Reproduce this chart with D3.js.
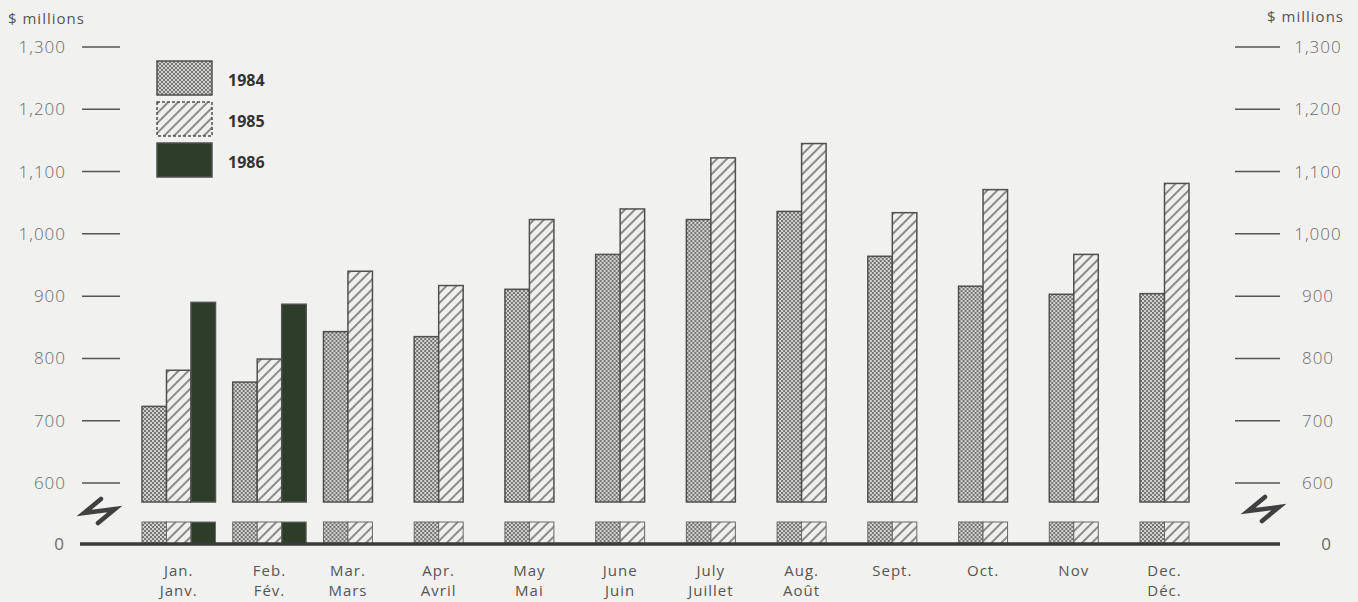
<!DOCTYPE html>
<html>
<head>
<meta charset="utf-8">
<script src="https://cdn.jsdelivr.net/npm/d3@7.9.0/dist/d3.min.js"></script>
<style>
  body { margin: 0; background: #f1f1ef; }
  svg { display: block; font-family: "Open Sans", "DejaVu Sans", sans-serif; }
</style>
</head>
<body>
<svg width="1358" height="602"></svg>
<script>
const months = ["Jan.", "Feb.", "Mar.", "Apr.", "May", "June", "July", "Aug.", "Sept.", "Oct.", "Nov", "Dec."];
const monthsFr = ["Janv.", "Fév.", "Mars", "Avril", "Mai", "Juin", "Juillet", "Août", "", "", "", "Déc."];
const years = ["1984", "1985", "1986"];
const values1984 = [723, 762, 843, 835, 911, 967, 1023, 1036, 964, 916, 903, 904];
const values1985 = [781, 799, 940, 917, 1023, 1040, 1122, 1145, 1034, 1071, 967, 1081];
const values1986 = [890, 887, null, null, null, null, null, null, null, null, null, null];
const tickValues = [600, 700, 800, 900, 1000, 1100, 1200, 1300];

const svg = d3.select('svg');
const defs = svg.append('defs');

// stipple for 1984
let dots = defs.append('pattern').attr('id', 'dots')
  .attr('patternUnits', 'userSpaceOnUse').attr('width', 4).attr('height', 4);
dots.append('rect').attr('width', 4).attr('height', 4).attr('fill', '#d2d2d0');
dots.append('circle').attr('cx', 1).attr('cy', 1).attr('r', 0.9).attr('fill', '#4a4a4a');
dots.append('circle').attr('cx', 3).attr('cy', 3).attr('r', 0.9).attr('fill', '#4a4a4a');

// hatch for 1985
let hatch = defs.append('pattern').attr('id', 'hatch')
  .attr('patternUnits', 'userSpaceOnUse').attr('width', 7).attr('height', 7)
  .attr('patternTransform', 'rotate(45)');
hatch.append('rect').attr('width', 7).attr('height', 7).attr('fill', '#efefed');
hatch.append('line').attr('x1', 1).attr('y1', 0).attr('x2', 1).attr('y2', 7)
  .attr('stroke', '#555').attr('stroke-width', 1.3);

const fills = { "1984": "url(#dots)", "1985": "url(#hatch)", "1986": "#2e3d2a" };
const series = { "1984": values1984, "1985": values1985, "1986": values1986 };

let y = d3.scaleLinear().domain([600, 1300]).range([483, 47]);
let x0 = d3.scaleBand().domain(months).range([142, 1213.5]).paddingInner(0.19).paddingOuter(0);
let x1 = d3.scaleBand().domain(years).range([0, x0.bandwidth()]);

const breakBottom = 502;   // bottom of the upper segment
const stubTop = 522;       // top of the stub under the break
const zeroY = 544;

let data = months.map((m, i) => ({
  month: m, fr: monthsFr[i],
  bars: years.filter(yr => series[yr][i] != null).map(yr => ({ year: yr, value: series[yr][i] }))
}));

let groups = svg.append('g').selectAll('g').data(data).join('g')
  .attr('transform', d => `translate(${x0(d.month)},0)`);

// upper part of bars
groups.selectAll('rect.top').data(d => d.bars).join('rect')
  .attr('class', 'top')
  .attr('x', d => x1(d.year))
  .attr('width', x1.bandwidth())
  .attr('y', d => y(d.value))
  .attr('height', d => breakBottom - y(d.value))
  .attr('fill', d => fills[d.year])
  .attr('stroke', '#505050').attr('stroke-width', 1.5);

// stubs below the break
groups.selectAll('rect.stub').data(d => d.bars).join('rect')
  .attr('class', 'stub')
  .attr('x', d => x1(d.year))
  .attr('width', x1.bandwidth())
  .attr('y', stubTop)
  .attr('height', zeroY - stubTop)
  .attr('fill', d => fills[d.year])
  .attr('stroke', '#6a6a6a').attr('stroke-width', 1);

// month labels
groups.append('text')
  .attr('x', d => d.bars.length * x1.bandwidth() / 2)
  .attr('y', 576)
  .attr('text-anchor', 'middle').attr('font-size', 15).attr('letter-spacing', 1).attr('fill', '#555')
  .text(d => d.month);
groups.append('text')
  .attr('x', d => d.bars.length * x1.bandwidth() / 2)
  .attr('y', 596)
  .attr('text-anchor', 'middle').attr('font-size', 15).attr('letter-spacing', 1).attr('fill', '#555')
  .text(d => d.fr);

// zero line
svg.append('line').attr('x1', 80).attr('x2', 1280).attr('y1', zeroY).attr('y2', zeroY)
  .attr('stroke', '#3a3a3a').attr('stroke-width', 3.5);

// left and right ticks
const fmt = d3.format(',');
let ticksL = svg.append('g').selectAll('g').data(tickValues).join('g')
  .attr('transform', d => `translate(0,${y(d)})`);
ticksL.append('line').attr('x1', 82).attr('x2', 120).attr('stroke', '#555').attr('stroke-width', 1.5);
ticksL.append('text').attr('x', 66).attr('dy', '0.35em').attr('text-anchor', 'end')
  .attr('font-size', 17).attr('letter-spacing', 1).attr('font-weight', 300).attr('fill', '#6a6a6a').text(d => fmt(d));

let ticksR = svg.append('g').selectAll('g').data(tickValues).join('g')
  .attr('transform', d => `translate(0,${y(d)})`);
ticksR.append('line').attr('x1', 1235).attr('x2', 1280).attr('stroke', '#555').attr('stroke-width', 1.5);
ticksR.append('text').attr('x', 1318).attr('dy', '0.35em').attr('text-anchor', 'middle')
  .attr('font-size', 17).attr('letter-spacing', 1).attr('font-weight', 300).attr('fill', '#6a6a6a').text(d => fmt(d));

svg.append('text').attr('x', 59).attr('y', zeroY).attr('dy', '0.35em').attr('text-anchor', 'middle')
  .attr('font-size', 17).attr('fill', '#6a6a6a').text('0');
svg.append('text').attr('x', 1326).attr('y', zeroY).attr('dy', '0.35em').attr('text-anchor', 'middle')
  .attr('font-size', 17).attr('fill', '#6a6a6a').text('0');

// units
svg.append('text').attr('x', 8).attr('y', 24).attr('font-size', 15).attr('letter-spacing', 1)
  .attr('fill', '#555').text('$ millions');
svg.append('text').attr('x', 1344).attr('y', 22).attr('text-anchor', 'end')
  .attr('font-size', 15).attr('letter-spacing', 1).attr('fill', '#555').text('$ millions');

// break symbols
const zig = 'M19,0 L2,14 L33,10 L16,24';
[[82, 499], [1246, 497]].forEach(([tx, ty]) => {
  svg.append('path').attr('d', zig).attr('transform', `translate(${tx},${ty})`)
    .attr('fill', 'none').attr('stroke', '#404040').attr('stroke-width', 4.5)
    .attr('stroke-linejoin', 'miter').attr('stroke-linecap', 'round');
});

// legend
let legend = svg.append('g').selectAll('g').data(years).join('g')
  .attr('transform', (d, i) => `translate(157,${61 + i * 41})`);
legend.append('rect').attr('width', 55).attr('height', 34)
  .attr('fill', d => fills[d])
  .attr('stroke', '#505050').attr('stroke-width', 1.5)
  .attr('stroke-dasharray', d => d === '1985' ? '3,2' : null);
legend.append('text').attr('x', 71).attr('y', 19).attr('dy', '0.35em')
  .attr('font-size', 16).attr('font-weight', 'bold').attr('fill', '#333').text(d => d);
</script>
</body>
</html>
